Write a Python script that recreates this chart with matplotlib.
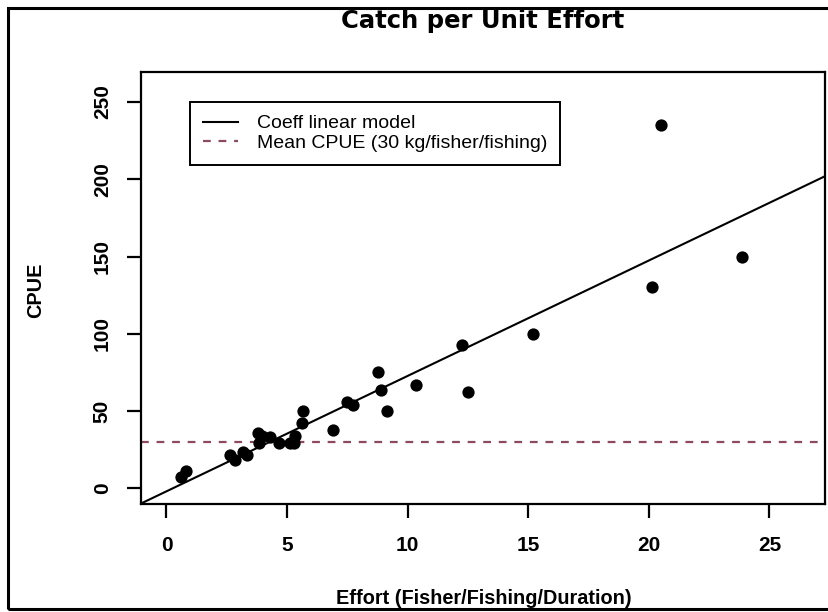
import matplotlib
matplotlib.use("Agg")
import matplotlib.pyplot as plt
from matplotlib.lines import Line2D
from matplotlib.patches import Rectangle

# Effort vs CPUE
effort = [0.62, 0.80, 2.63, 2.83, 3.18, 3.32, 3.80, 3.94, 3.85, 4.29,
          4.67, 5.12, 5.28, 5.33, 5.60, 5.67, 6.89, 7.47, 7.72, 8.75,
          8.88, 9.13, 10.35, 12.24, 12.50, 15.19, 20.15, 20.50, 23.87]
cpue = [7, 11, 21.5, 18.5, 23.5, 21.5, 36, 34, 29, 33,
        29, 29, 29, 33.5, 42, 50, 38, 56, 54, 75,
        63.5, 50, 67, 93, 62.5, 100, 130.5, 235, 150]

# linear model coefficients and mean CPUE
intercept = -2.0
slope = 7.47
mean_cpue = 30

x_ticks = [0, 5, 10, 15, 20, 25]
y_ticks = [0, 50, 100, 150, 200, 250]

FONT = "Liberation Sans"
DASH_COL = "#8b4a60"

fig = plt.figure(figsize=(8.29, 6.12), dpi=100)
ax = fig.add_axes([0.170, 0.1765, 0.825, 0.7055])

ax.set_xlim(-1.06, 27.3)
ax.set_ylim(-10.2, 269.3)

ax.scatter(effort, cpue, s=78, color="black", zorder=3, linewidths=0)
ax.axline((0, intercept), slope=slope, color="black", lw=1.5)
ax.axhline(mean_cpue, color=DASH_COL, lw=1.6, dashes=(3.5, 3.5))

for sp in ax.spines.values():
    sp.set_linewidth(1.6)

ax.set_xticks(x_ticks)
ax.set_yticks(y_ticks)
ax.tick_params(direction="out", length=10, width=1.6, labelsize=15, pad=13)
ax.tick_params(axis="y", pad=11)
for lbl in ax.get_xticklabels() + ax.get_yticklabels():
    lbl.set_fontfamily(FONT)
    lbl.set_fontweight("bold")
for lbl in ax.get_yticklabels():
    lbl.set_rotation(90)
    lbl.set_va("center")

# title, drawn wide and heavy like the source
fig.text(0.5 + (483 - 414.5) / 829, 1 - 28 / 612, "Catch per Unit Effort",
         ha="center", va="baseline", fontfamily="DejaVu Sans",
         fontweight="bold", fontsize=17.5)

fig.text(484 / 829, 1 - 598 / 612, "Effort (Fisher/Fishing/Duration)", ha="center",
         va="center", fontfamily=FONT, fontweight="bold", fontsize=14.3)
fig.text(36 / 829, 1 - 290 / 612, "CPUE", ha="center", va="center",
         rotation=90, fontfamily=FONT, fontweight="bold", fontsize=14.3)

handles = [
    Line2D([], [], color="black", lw=1.5),
    Line2D([], [], color=DASH_COL, lw=1.6, dashes=(3.5, 3.5)),
]
leg = ax.legend(handles, ["Coeff linear model", "Mean CPUE (30 kg/fisher/fishing)"],
                loc="upper left", bbox_to_anchor=(0.0716, 0.9306), borderaxespad=0,
                fancybox=False, edgecolor="black", framealpha=1, handlelength=1.8,
                borderpad=0.65, labelspacing=0.1, handletextpad=1.0,
                prop={"family": FONT, "size": 14})
leg.get_frame().set_linewidth(1.4)

# frame around the whole picture
fig.patches.append(Rectangle((8 / 829, 3 / 612), 1.05, 601 / 612,
                             transform=fig.transFigure, fill=False,
                             edgecolor="black", lw=2.2))

fig.savefig("out.png", dpi=100)
